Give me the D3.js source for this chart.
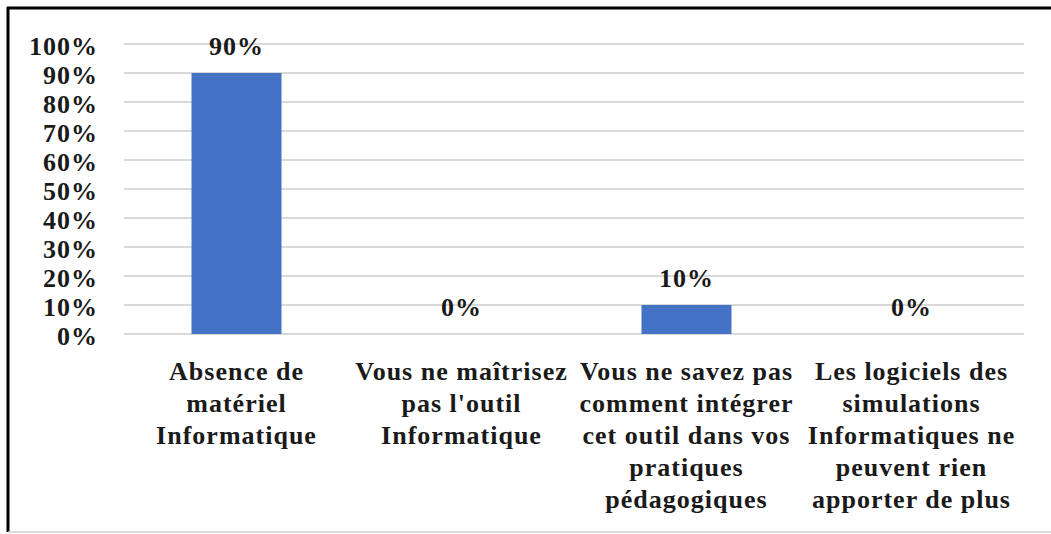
<!DOCTYPE html>
<html>
<head>
<meta charset="utf-8">
<script src="https://cdn.jsdelivr.net/npm/d3@7"></script>
<style>
  body { margin: 0; background: #fff; }
  svg text { font-family: "Liberation Serif", "Times New Roman", serif; font-weight: bold; fill: #1a1a1a; letter-spacing: 1px; }
</style>
</head>
<body>
<svg></svg>
<script>
const SVG_WIDTH = 1051;
const SVG_HEIGHT = 534;
const PLOT_LEFT = 124;
const PLOT_RIGHT = 1024;
const PLOT_TOP = 44;
const PLOT_BOTTOM = 334;
const FONT_SIZE = 26;
const LINE_HEIGHT = 32;

// data
const categories = [
  ["Absence de", "matériel", "Informatique"],
  ["Vous ne maîtrisez", "pas l'outil", "Informatique"],
  ["Vous ne savez pas", "comment intégrer", "cet outil dans vos", "pratiques", "pédagogiques"],
  ["Les logiciels des", "simulations", "Informatiques ne", "peuvent rien", "apporter de plus"]
];
const values = [0.90, 0, 0.10, 0];
const yTicks = [0, 0.1, 0.2, 0.3, 0.4, 0.5, 0.6, 0.7, 0.8, 0.9, 1.0];

const svg = d3.select("svg").attr("width", SVG_WIDTH).attr("height", SVG_HEIGHT);

const xScale = d3.scaleBand().domain(d3.range(categories.length)).range([PLOT_LEFT, PLOT_RIGHT]).paddingInner(0.6).paddingOuter(0.3);
const band = d3.scaleBand().domain(d3.range(categories.length)).range([PLOT_LEFT, PLOT_RIGHT]);
const yScale = d3.scaleLinear().domain([0, 1]).range([PLOT_BOTTOM, PLOT_TOP]);
const pct = d3.format(".0%");

// frame
svg.append("line").attr("x1", 8).attr("x2", 8).attr("y1", 7).attr("y2", 532).attr("stroke", "#000").attr("stroke-width", 3);
svg.append("line").attr("x1", 7).attr("x2", SVG_WIDTH).attr("y1", 8).attr("y2", 8).attr("stroke", "#000").attr("stroke-width", 3);
svg.append("line").attr("x1", 8).attr("x2", SVG_WIDTH).attr("y1", 532).attr("y2", 532).attr("stroke", "#d0d0d0").attr("stroke-width", 1.5);

// gridlines
svg.append("g").selectAll("line")
  .data(yTicks)
  .enter()
  .append("line")
  .attr("x1", PLOT_LEFT).attr("x2", PLOT_RIGHT)
  .attr("y1", d => yScale(d)).attr("y2", d => yScale(d))
  .attr("stroke", "#d9d9d9").attr("stroke-width", 2);

// y axis labels
const yAxis = svg.append("g")
  .attr("transform", "translate(" + (PLOT_LEFT - 26) + ",0)")
  .call(d3.axisLeft(yScale).tickValues(yTicks).tickFormat(pct).tickSize(0).tickPadding(0));
yAxis.select(".domain").remove();
yAxis.selectAll("text").attr("font-size", FONT_SIZE).attr("dy", "0.4em").attr("font-family", null);

// bars
svg.append("g").selectAll("rect")
  .data(values)
  .enter()
  .append("rect")
  .attr("x", (d, i) => xScale(i))
  .attr("width", xScale.bandwidth())
  .attr("y", d => yScale(d))
  .attr("height", d => PLOT_BOTTOM - yScale(d))
  .attr("fill", "#4472c4");

// data labels
svg.append("g").selectAll("text")
  .data(values)
  .enter()
  .append("text")
  .attr("x", (d, i) => band(i) + band.bandwidth() / 2)
  .attr("y", d => yScale(d) - 18)
  .attr("text-anchor", "middle")
  .attr("font-size", FONT_SIZE)
  .text(d => pct(d));

// category labels
const catLabels = svg.append("g").selectAll("text")
  .data(categories)
  .enter()
  .append("text")
  .attr("text-anchor", "middle")
  .attr("font-size", FONT_SIZE);
catLabels.selectAll("tspan")
  .data((d, i) => d.map(line => ({line: line, i: i})))
  .enter()
  .append("tspan")
  .attr("x", d => band(d.i) + band.bandwidth() / 2)
  .attr("y", (d, j) => 380 + j * LINE_HEIGHT)
  .text(d => d.line);
</script>
</body>
</html>
